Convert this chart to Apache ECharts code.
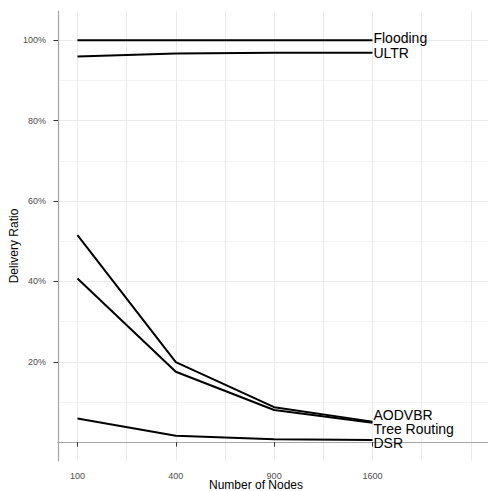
<!DOCTYPE html>
<html>
<head>
<meta charset="utf-8">
<script src="https://cdn.jsdelivr.net/npm/echarts@6/dist/echarts.min.js"></script>
<style>
  html, body { margin: 0; padding: 0; background: #fff; }
  #chart { width: 488px; height: 491px; }
</style>
</head>
<body>
<div id="chart"></div>
<script>
// node counts, x axis is a sqrt scale like the original
const nodes = [100, 400, 900, 1600]
const xTicks = [100, 400, 900, 1600]
const yTicks = [20, 40, 60, 80, 100]

// delivery ratio in percent
const flooding = [100, 100, 100, 100]
const ultr = [96.0, 96.7, 96.9, 96.9]
const aodvbr = [51.5, 19.9, 8.7, 5.1]
const treeRouting = [40.7, 17.5, 8.0, 4.8]
const dsr = [5.9, 1.6, 0.7, 0.5]

const seriesList = [
  { name: 'Flooding', values: flooding, offset: [0, -2] },
  { name: 'ULTR', values: ultr, offset: [0, 0] },
  { name: 'AODVBR', values: aodvbr, offset: [0, -7] },
  { name: 'Tree Routing', values: treeRouting, offset: [0, 6] },
  { name: 'DSR', values: dsr, offset: [0, 3] },
]

const font = 'Liberation Sans, Arial, sans-serif'
const majorGrid = '#ebebeb'
const minorGrid = '#f4f4f4'
const border = '#a6a6a6'

const xMin = 8.02, xMax = 51.75
const yMin = -4.7, yMax = 107.3

const chart = echarts.init(document.getElementById('chart'), null, { renderer: 'svg' })

chart.setOption({
  animation: false,
  backgroundColor: '#fff',
  grid: { left: 58, top: 11, right: 0, bottom: 30, outerBoundsMode: 'none', containLabel: false },
  xAxis: [
    {
      type: 'value',
      min: xMin,
      max: xMax,
      position: 'bottom',
      name: 'Number of Nodes',
      nameLocation: 'middle',
      nameGap: 18,
      nameMoveOverlap: false,
      nameTextStyle: { fontFamily: font, fontSize: 12, color: '#000', padding: [0, 34, 0, 0] },
      axisLine: { show: true, lineStyle: { color: border, width: 1.2 } },
      axisTick: { show: true, length: 4.5, lineStyle: { color: '#333' },
        customValues: xTicks.map(Math.sqrt) },
      axisLabel: {
        customValues: xTicks.map(Math.sqrt),
        margin: 10,
        fontFamily: font, fontSize: 9, color: '#4d4d4d',
        formatter: v => String(Math.round(v * v)),
      },
      splitLine: { show: true, lineStyle: { color: majorGrid, width: 1 } },
    },
    {
      // top border + minor vertical grid
      type: 'value',
      min: xMin,
      max: xMax,
      position: 'top',
      axisLine: { show: true, lineStyle: { color: border, width: 1.2 } },
      axisTick: { show: false, customValues: [15, 25, 35, 45, 50] },
      axisLabel: { show: false },
      splitLine: { show: true, lineStyle: { color: majorGrid, width: 1 } },
    },
  ],
  yAxis: [
    {
      type: 'value',
      min: yMin,
      max: yMax,
      position: 'left',
      name: 'Delivery Ratio',
      nameLocation: 'middle',
      nameGap: 38,
      nameMoveOverlap: false,
      nameTextStyle: { fontFamily: font, fontSize: 12, color: '#000', padding: [0, 20, 0, 0] },
      axisLine: { show: true, lineStyle: { color: border, width: 1.2 } },
      axisTick: { show: true, length: 4.5, lineStyle: { color: '#333' }, customValues: yTicks },
      axisLabel: {
        customValues: yTicks,
        margin: 12,
        fontFamily: font, fontSize: 9, color: '#4d4d4d',
        formatter: v => v + '%',
      },
      splitLine: { show: true, lineStyle: { color: majorGrid, width: 1 } },
    },
    {
      // minor horizontal grid
      type: 'value',
      min: yMin,
      max: yMax,
      position: 'right',
      axisLine: { show: false },
      axisTick: { show: false, customValues: [0, 10, 30, 50, 70, 90] },
      axisLabel: { show: false },
      splitLine: { show: true, lineStyle: { color: minorGrid, width: 1 } },
    },
  ],
  series: seriesList.map(s => ({
    name: s.name,
    type: 'line',
    xAxisIndex: 0,
    yAxisIndex: 0,
    data: nodes.map((n, i) => [Math.sqrt(n), s.values[i]]),
    showSymbol: false,
    symbol: 'none',
    lineStyle: { color: '#000', width: 2 },
    itemStyle: { color: '#000' },
    emphasis: { disabled: true },
    endLabel: {
      show: true,
      formatter: s.name,
      distance: 1,
      offset: s.offset,
      fontFamily: font,
      fontSize: 14,
      lineHeight: 13,
      color: '#000',
    },
  })),
})
</script>
</body>
</html>
